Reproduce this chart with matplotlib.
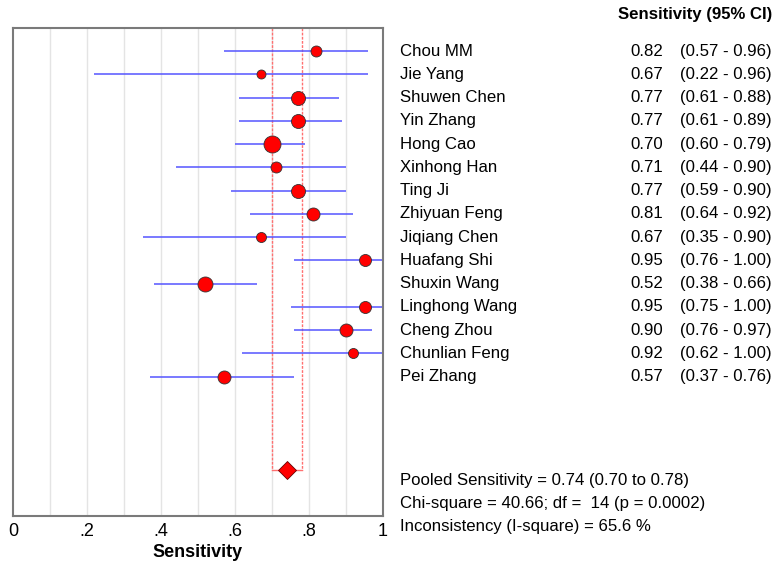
import matplotlib
matplotlib.use('Agg')
import matplotlib.pyplot as plt

plt.rcParams['font.family'] = ['Liberation Sans', 'DejaVu Sans']

studies = ['Chou MM', 'Jie Yang', 'Shuwen Chen', 'Yin Zhang', 'Hong Cao', 'Xinhong Han', 'Ting Ji',
           'Zhiyuan Feng', 'Jiqiang Chen', 'Huafang Shi', 'Shuxin Wang', 'Linghong Wang', 'Cheng Zhou',
           'Chunlian Feng', 'Pei Zhang']
sens = [0.82, 0.67, 0.77, 0.77, 0.70, 0.71, 0.77, 0.81, 0.67, 0.95, 0.52, 0.95, 0.90, 0.92, 0.57]
lo = [0.57, 0.22, 0.61, 0.61, 0.60, 0.44, 0.59, 0.64, 0.35, 0.76, 0.38, 0.75, 0.76, 0.62, 0.37]
hi = [0.96, 0.96, 0.88, 0.89, 0.79, 0.90, 0.90, 0.92, 0.90, 1.00, 0.66, 1.00, 0.97, 1.00, 0.76]
# relative study weights (marker size)
weights = [11, 9, 14, 14, 17, 11, 14, 13, 10, 12, 15, 12, 13, 10, 13]

pooled = 0.74
pooled_lo = 0.70
pooled_hi = 0.78
stats_text = ['Pooled Sensitivity = 0.74 (0.70 to 0.78)',
              'Chi-square = 40.66; df =  14 (p = 0.0002)',
              'Inconsistency (I-square) = 65.6 %']
xticks = [0, 0.2, 0.4, 0.6, 0.8, 1.0]
xticklabels = ['0', '.2', '.4', '.6', '.8', '1']

fig = plt.figure(figsize=(7.76, 5.64), dpi=100)
ax = fig.add_axes([13 / 776, 1 - 516 / 564, 370 / 776, 488 / 564])

rows = list(range(1, len(studies) + 1))
diamond_y = 19.03

for i in range(1, 10):
    ax.axvline(i / 10, color='#e4e4e4', lw=1, zorder=0)

ax.hlines(rows, lo, hi, color='#5555ff', lw=1.1, zorder=2)
for r, s, w in zip(rows, sens, weights):
    ax.plot(s, r, 'o', ms=w * 0.72, mfc='#ff0000', mec='#333333', mew=0.6, zorder=3)

ax.plot([pooled_lo, pooled_lo], [0, diamond_y], color='#ff7070', lw=1, ls=(0, (2, 1)), zorder=1)
ax.plot([pooled_hi, pooled_hi], [0, diamond_y], color='#ff7070', lw=1, ls=(0, (2, 1)), zorder=1)
ax.plot([pooled_lo, pooled_hi], [diamond_y, diamond_y], color='#ff7070', lw=1, zorder=1)
ax.plot(pooled, diamond_y, 'D', ms=9.5, mfc='#ff0000', mec='#660000', mew=0.6, zorder=3)

ax.set_xlim(0, 1)
ax.set_ylim(21, 0)
ax.set_yticks([])
ax.set_xticks(xticks)
ax.set_xticklabels(xticklabels, fontsize=13)
ax.tick_params(axis='x', length=0, pad=5)
ax.set_xlabel('Sensitivity', fontsize=13, fontweight='bold', labelpad=3)
for sp in ax.spines.values():
    sp.set_color('#7a7a7a')
    sp.set_linewidth(1.5)

for r, name, s, l, h in zip(rows, studies, sens, lo, hi):
    ax.text(1.0 + 17 / 370, r, name, fontsize=12.1, va='center', ha='left', clip_on=False)
    ax.text(1.0 + 280 / 370, r, '%.2f' % s, fontsize=12.1, va='center', ha='right', clip_on=False)
    ax.text(1.0 + 389 / 370, r, '(%.2f - %.2f)' % (l, h), fontsize=12.1, va='center', ha='right',
            clip_on=False)

fig.text(772 / 776, 1 - 15 / 564, 'Sensitivity (95% CI)', fontsize=12.1, fontweight='bold',
         ha='right', va='center')
for k, line in enumerate(stats_text):
    fig.text(400 / 776, 1 - (480 + 23.5 * k) / 564, line, fontsize=12.1, ha='left', va='center')

fig.savefig('out.png', dpi=100, facecolor='white')
